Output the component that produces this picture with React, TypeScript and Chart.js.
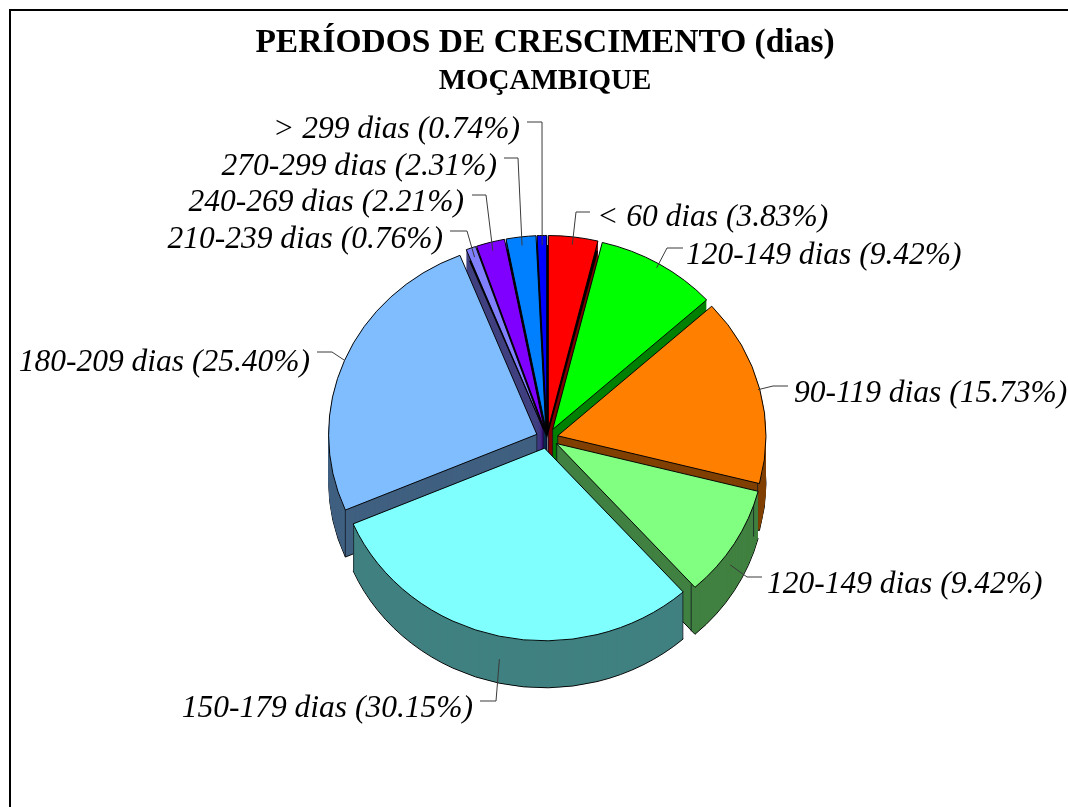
import React, { useEffect, useRef } from "react";
import { Chart, registerables } from "chart.js";

Chart.register(...registerables);

const titleText = "PERÍODOS DE CRESCIMENTO (dias)";
const subtitleText = "MOÇAMBIQUE";
const categories = ["< 60 dias", "120-149 dias", "90-119 dias", "120-149 dias", "150-179 dias", "180-209 dias", "210-239 dias", "240-269 dias", "270-299 dias", "> 299 dias"];
const shares = [3.83, 9.42, 15.73, 9.42, 30.15, 25.4, 0.76, 2.21, 2.31, 0.74];
const topColors = ["#FF0000", "#00FF00", "#FF8000", "#80FF80", "#80FFFF", "#80BDFF", "#8080FF", "#8000FF", "#0080FF", "#0000FF"];
const wallColors = ["#800000", "#008000", "#804000", "#408040", "#408080", "#406080", "#404080", "#400080", "#004080", "#000080"];
const narrowSlices = [0, 6, 7, 8, 9];

// label text anchor [x, y, align] and leader elbow [x, y], in page pixels
const labelX = [597, 686, 794, 767, 473, 310, 443, 464, 497, 520];
const labelY = [218, 256, 394, 585, 709, 363, 240, 203, 167, 130];
const labelAlign = ["left", "left", "left", "left", "right", "right", "right", "right", "right", "right"];
const leaderTail = [[590, 212], [683, 248], [788, 386], [762, 577], [480, 701], [317, 352], [450, 231], [472, 195], [504, 158], [527, 122]];
const leaderElbow = [[576, 212], [667, 248], [773, 386], [747, 577], [496, 701], [332, 352], [467, 231], [486, 195], [518, 158], [542, 122]];

const SQUASH = 0.925;
const DEPTH = 47;
const SHIFT_X = 2;
const OFFSET = 44; // Chart.js draws arcs pushed out by offset / 4

const setTransform = (ctx: CanvasRenderingContext2D, cx: number, cy: number) => {
  ctx.translate(cx + SHIFT_X, cy);
  ctx.scale(1, SQUASH);
  ctx.translate(-cx, -cy);
};

const faceOptions = (fill: string, border: number, offset: number) => ({
  backgroundColor: fill,
  borderColor: "#000000",
  borderWidth: border,
  borderAlign: "center",
  borderJoinStyle: "miter",
  borderRadius: 0,
  borderDash: [],
  borderDashOffset: 0,
  offset,
  spacing: 0,
  circular: true,
  selfJoin: false,
});

const pie3d = {
  id: "pie3d",
  afterDatasetsUpdate(chart: any) {
    // Chart.js grows the radius and trims the angle of narrow exploded wedges; undo both
    for (const arc of chart.getDatasetMeta(0).data) {
      const radiusOffset = (OFFSET / 4) * (1 - Math.sin(Math.min(Math.PI, arc.circumference)));
      const target = arc.outerRadius;
      arc.outerRadius = target - radiusOffset;
      const widen = radiusOffset / Math.PI / target / 2;
      arc.startAngle -= widen;
      arc.endAngle += widen;
    }
  },
  beforeDatasetsDraw(chart: any) {
    const ctx = chart.ctx;
    const arcs = chart.getDatasetMeta(0).data as any[];
    const cx = arcs[0].x;
    const cy = arcs[0].y;
    ctx.save();
    setTransform(ctx, cx, cy);
    const order = arcs
      .map((arc, i) => ({ arc, i, mid: (arc.startAngle + arc.endAngle) / 2 }))
      .sort((a, b) => Math.sin(a.mid) - Math.sin(b.mid));
    for (const { arc, i, mid } of order) {
      const saved = arc.options;
      for (let k = DEPTH; k >= 1; k--) {
        ctx.save();
        ctx.translate(0, k / SQUASH);
        arc.options = faceOptions(wallColors[i], k === DEPTH ? 1 : 0, OFFSET);
        arc.draw(ctx);
        ctx.restore();
      }
      arc.options = saved;
      const ox = cx + Math.cos(mid) * (OFFSET / 4);
      const oy = cy + Math.sin(mid) * (OFFSET / 4);
      ctx.strokeStyle = "#101820";
      ctx.lineWidth = 0.8;
      for (const a of [arc.startAngle, arc.endAngle]) {
        if (Math.sin(a) <= 0) continue;
        const rx = ox + Math.cos(a) * arc.outerRadius;
        const ry = oy + Math.sin(a) * arc.outerRadius;
        ctx.beginPath();
        ctx.moveTo(rx, ry);
        ctx.lineTo(rx, ry + DEPTH / SQUASH);
        ctx.stroke();
      }
      ctx.beginPath();
      ctx.moveTo(ox, oy);
      ctx.lineTo(ox, oy + DEPTH / SQUASH);
      ctx.stroke();
    }
    // dark backing that closes the hairline gaps between the narrow wedges
    for (const i of narrowSlices) {
      const arc = arcs[i];
      const saved = arc.options;
      const savedRadius = arc.outerRadius;
      arc.options = faceOptions("#000000", 0, 0);
      arc.outerRadius = savedRadius + OFFSET / 4 - 2;
      arc.draw(ctx);
      arc.options = saved;
      arc.outerRadius = savedRadius;
    }
  },
  afterDatasetsDraw(chart: any) {
    chart.ctx.restore();
  },
  afterDraw(chart: any) {
    const ctx = chart.ctx;
    const arcs = chart.getDatasetMeta(0).data as any[];
    ctx.save();
    ctx.font = "italic 31.5px 'Liberation Serif'";
    ctx.fillStyle = "#000000";
    ctx.textBaseline = "middle";
    arcs.forEach((arc, i) => {
      const mid = (arc.startAngle + arc.endAngle) / 2;
      const r = arc.outerRadius + OFFSET / 4;
      const px = arc.x + SHIFT_X + Math.cos(mid) * r;
      const py = arc.y + Math.sin(mid) * r * SQUASH + (Math.sin(mid) > 0.3 ? DEPTH / 2 : 0);
      ctx.strokeStyle = "#3a3a3a";
      ctx.lineWidth = 1;
      ctx.beginPath();
      ctx.moveTo(leaderTail[i][0], leaderTail[i][1]);
      ctx.lineTo(leaderElbow[i][0], leaderElbow[i][1]);
      ctx.lineTo(px, py);
      ctx.stroke();
      ctx.textAlign = labelAlign[i];
      ctx.fillText(`${categories[i]} (${shares[i].toFixed(2)}%)`, labelX[i], labelY[i]);
    });
    ctx.restore();
  },
};

export default function App() {
  const ref = useRef<HTMLCanvasElement | null>(null);
  useEffect(() => {
    const chart = new Chart(ref.current as HTMLCanvasElement, {
      type: "pie",
      data: {
        labels: categories,
        datasets: [
          {
            data: shares,
            backgroundColor: topColors,
            borderColor: "#000000",
            borderWidth: 1,
            offset: OFFSET,
            hoverOffset: 0,
            clip: false,
          } as any,
        ],
      },
      options: {
        responsive: false,
        animation: false,
        events: [],
        layout: { padding: { left: 22, right: 0, top: 0, bottom: 138 } },
        plugins: {
          legend: { display: false },
          tooltip: { enabled: false },
          title: {
            display: true,
            text: titleText,
            color: "#000000",
            font: { family: "'Liberation Serif'", size: 33.5, weight: "bold", lineHeight: 1.2 },
            padding: { top: 23, bottom: 0 },
          },
          subtitle: {
            display: true,
            text: subtitleText,
            color: "#000000",
            font: { family: "'Liberation Serif'", size: 29, weight: "bold", lineHeight: 1.2 },
            padding: { top: 0.5, bottom: 109 },
          },
        },
      },
      plugins: [pie3d as any],
    });
    return () => chart.destroy();
  }, []);
  return (
    <div style={{ position: "absolute", left: 0, top: 0, width: 1068, height: 807, overflow: "hidden", background: "#fff" }}>
      <canvas ref={ref} width={1068} height={807} style={{ display: "block" }} />
      <div style={{ position: "absolute", left: 9, top: 9, right: 0, bottom: 0, borderLeft: "2px solid #000", borderTop: "2px solid #000", pointerEvents: "none" }} />
    </div>
  );
}
